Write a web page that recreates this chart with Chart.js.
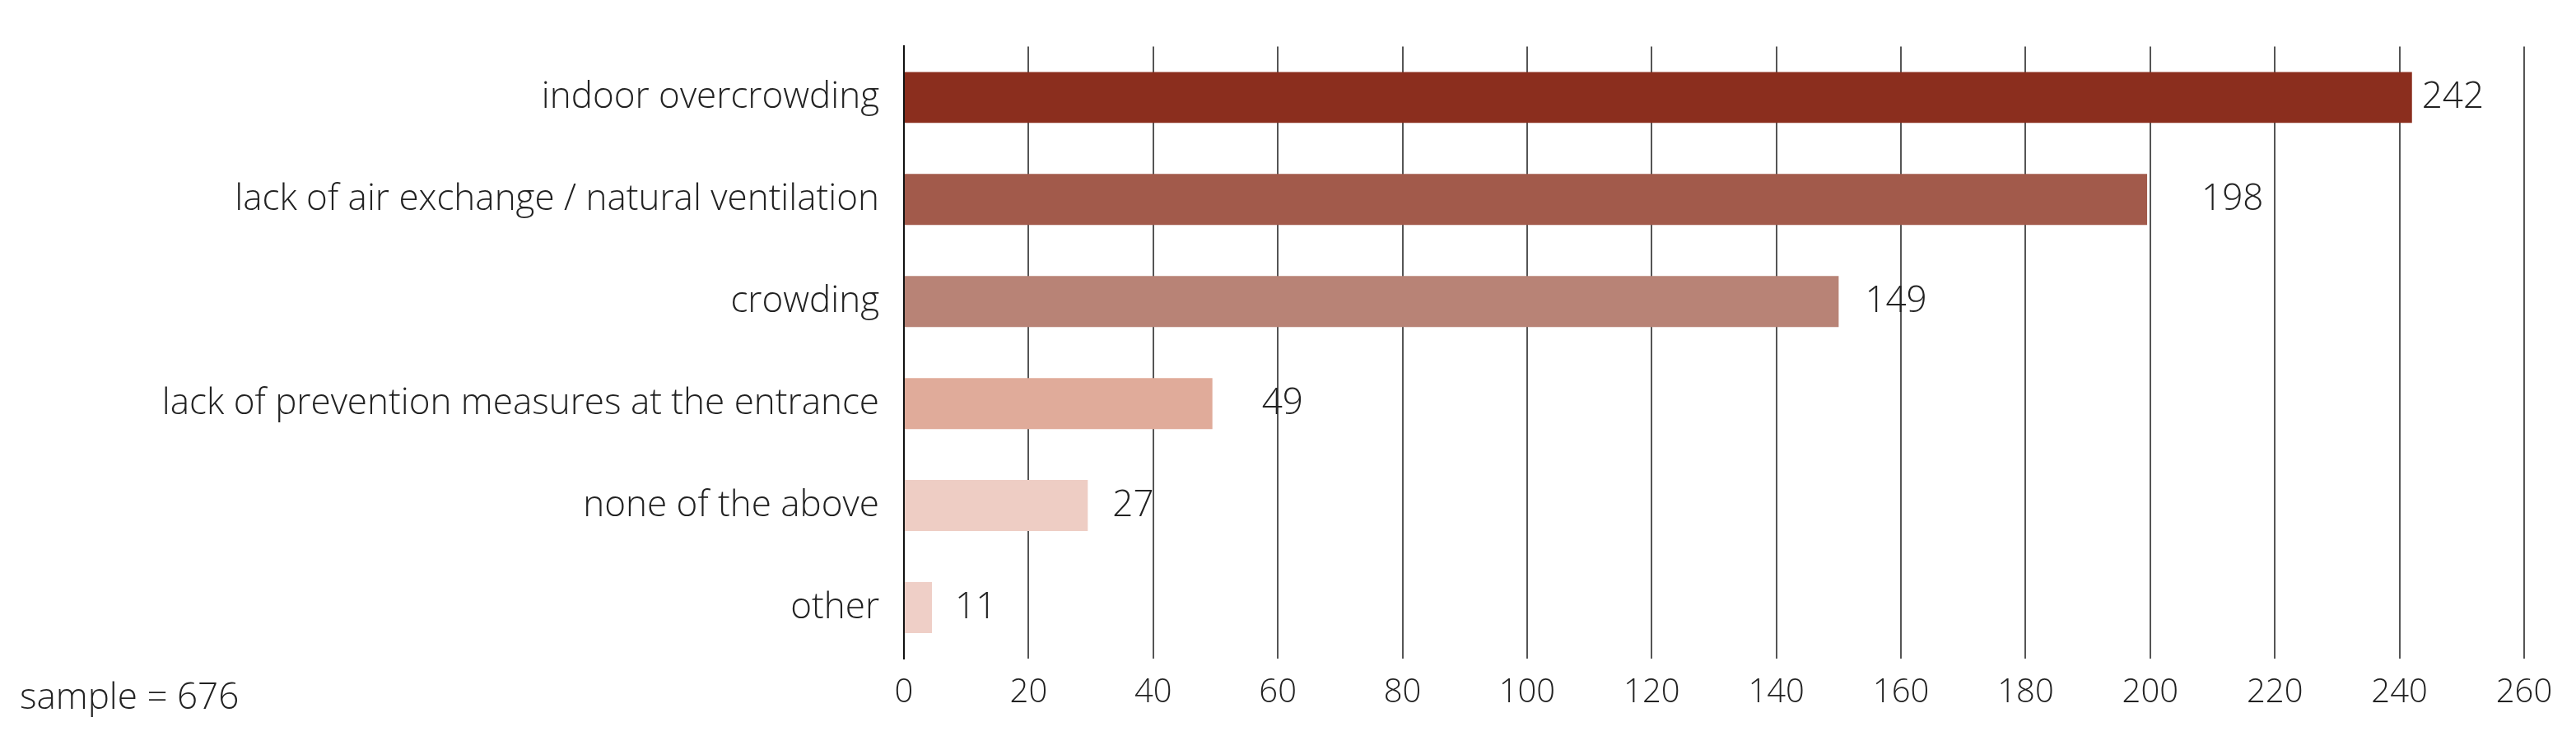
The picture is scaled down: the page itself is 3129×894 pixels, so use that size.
<!DOCTYPE html>
<html>
<head>
<meta charset="utf-8">
<script src="https://cdn.jsdelivr.net/npm/chart.js@4"></script>
<style>
  body { margin: 0; background: #fff; }
  #wrap { position: relative; width: 3129px; height: 894px; }
</style>
</head>
<body>
<div id="wrap"><canvas id="myChart"></canvas></div>
<script>
const categories = ['indoor overcrowding', 'lack of air exchange / natural ventilation', 'crowding',
  'lack of prevention measures at the entrance', 'none of the above', 'other'];
// bar lengths as drawn in the picture
const barValues = [242, 199.5, 150, 49.5, 29.5, 4.5];
// numbers printed beside the bars
const valueLabels = ['242', '198', '149', '49', '27', '11'];
const barColors = ['#8b2e1e', '#a25a4b', '#b88376', '#e0ab9a', '#eecdc4', '#efcfc7'];
const labelOffsets = [12, 66, 32, 60, 30, 28];
const sampleText = 'sample = 676';

const valueLabelPlugin = {
  id: 'valueLabels',
  afterDatasetsDraw(chart) {
    const ctx = chart.ctx;
    const meta = chart.getDatasetMeta(0);
    ctx.save();
    ctx.font = '300 44px "Open Sans"';
    ctx.fillStyle = '#222';
    ctx.textBaseline = 'middle';
    meta.data.forEach((bar, i) => {
      ctx.fillText(valueLabels[i], bar.x + labelOffsets[i], bar.y);
    });
    ctx.textBaseline = 'middle';
    ctx.fillText(sampleText, 24, 848);
    ctx.restore();
  }
};

const ctx = document.getElementById('myChart');
const myChart = new Chart(ctx, {
  type: 'bar',
  data: {
    labels: categories,
    datasets: [{
      data: barValues,
      backgroundColor: barColors,
      borderWidth: 0,
      barPercentage: 0.5,
      categoryPercentage: 1,
    }]
  },
  options: {
    indexAxis: 'y',
    responsive: true,
    maintainAspectRatio: false,
    devicePixelRatio: 1,
    animation: false,
    layout: { padding: { top: 36, right: 63, left: 0, bottom: 0 } },
    plugins: { legend: { display: false }, tooltip: { enabled: false } },
    scales: {
      x: {
        min: 0, max: 260,
        ticks: { stepSize: 20, color: '#222', padding: 18, font: { family: 'Open Sans', size: 40, weight: 300 } },
        grid: { color: '#555', lineWidth: 2, drawTicks: false },
        border: { display: false },
        afterFit(scale) { scale.height = 94; }
      },
      y: {
        ticks: { color: '#222', padding: 30, font: { family: 'Open Sans', size: 44, weight: 300 } },
        grid: { display: false, drawTicks: false },
        border: { color: '#111', width: 2 },
        afterFit(scale) { scale.width = 1098; }
      }
    }
  },
  plugins: [valueLabelPlugin]
});
</script>
</body>
</html>
